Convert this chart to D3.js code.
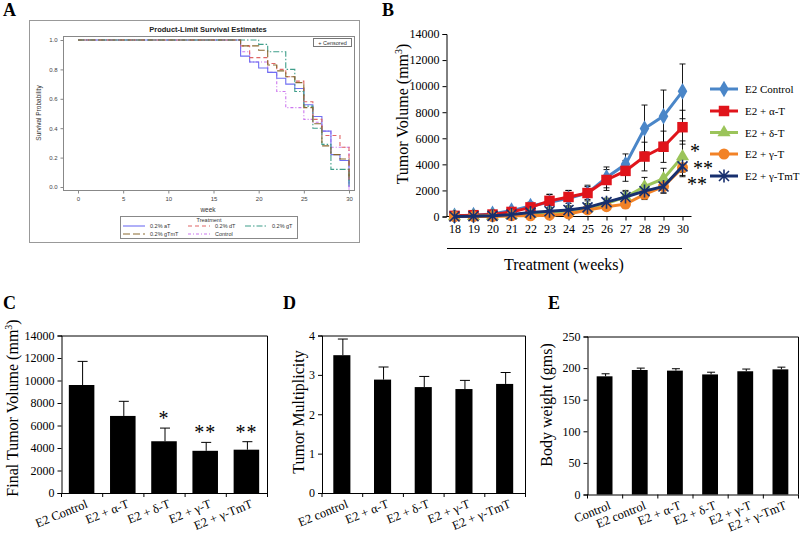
<!DOCTYPE html>
<html><head><meta charset="utf-8">
<script src="https://cdn.jsdelivr.net/npm/d3@7"></script>
<style>
body{margin:0;background:#fff}
svg{display:block}
text{font-family:"Liberation Serif","Times New Roman",serif;fill:#000}
.sas text{font-family:"Liberation Sans",Arial,sans-serif;fill:#333}
</style>
</head><body>
<svg id="chart" width="800" height="540"></svg>
<script>
// ---------- Panel A: survival data ----------
const survWeekTicks = [0, 5, 10, 15, 20, 25, 30];
const survProbTicks = [0, 0.2, 0.4, 0.6, 0.8, 1.0];
const survGroups = ["0.2% aT", "0.2% dT", "0.2% gT", "0.2% gTmT", "Control"];
const survTimesAT   = [0, 18, 19, 20, 21, 22, 23, 24, 25, 26, 27, 28, 29, 30];
const survProbAT    = [1, 0.89, 0.85, 0.81, 0.78, 0.74, 0.70, 0.67, 0.56, 0.48, 0.38, 0.22, 0.18, 0.02];
const survTimesDT   = [0, 18, 19, 21, 22, 23, 24, 25, 26, 27, 29, 30];
const survProbDT    = [1, 0.96, 0.88, 0.84, 0.80, 0.75, 0.72, 0.58, 0.46, 0.35, 0.27, 0.07];
const survTimesGT   = [0, 20, 21, 23, 24, 25, 26, 27, 28, 30];
const survProbGT    = [1, 0.97, 0.92, 0.80, 0.65, 0.55, 0.40, 0.29, 0.12, 0.03];
const survTimesGTMT = [0, 18, 20, 21, 22, 23, 24, 25, 26, 27, 28, 29, 30];
const survProbGTMT  = [1, 0.96, 0.93, 0.83, 0.79, 0.75, 0.71, 0.54, 0.43, 0.28, 0.22, 0.19, 0.07];
const survTimesCtl  = [0, 18, 19, 21, 22, 23, 25, 26, 27, 28, 30];
const survProbCtl   = [1, 0.92, 0.85, 0.78, 0.65, 0.54, 0.46, 0.44, 0.38, 0.27, 0.0];

// ---------- Panel B: tumor volume over time ----------
const weeksB = [18, 19, 20, 21, 22, 23, 24, 25, 26, 27, 28, 29, 30];
const seriesB = ["E2 Control", "E2 + α-T", "E2 + δ-T", "E2 + γ-T", "E2 + γ-TmT"];
const volControl = [50, 100, 200, 450, 800, 1100, 1400, 1800, 3000, 4000, 6750, 7700, 9600];
const volAlpha   = [50, 100, 150, 350, 700, 1200, 1500, 1800, 2800, 3500, 4600, 5350, 6850];
const volDelta   = [0, 20, 50, 100, 200, 300, 400, 650, 1000, 1500, 2300, 2900, 4600];
const volGamma   = [0, 0, 0, 50, 50, 100, 200, 500, 750, 950, 1700, 2300, 3750];
const volGammaMT = [0, 20, 50, 150, 300, 400, 500, 700, 1100, 1500, 1950, 2300, 3850];
const errControl = [50, 80, 100, 200, 300, 600, 600, 600, 800, 800, 1800, 2000, 2100];
const errAlpha   = [50, 80, 100, 200, 300, 500, 500, 500, 800, 800, 1100, 1200, 1300];
const errDelta   = [20, 30, 50, 80, 100, 150, 200, 250, 300, 400, 700, 800, 1200];
const errGamma   = [20, 30, 50, 60, 80, 100, 150, 200, 250, 300, 400, 500, 700];
const errGammaMT = [20, 30, 50, 80, 100, 200, 300, 300, 300, 500, 500, 500, 700];
const yTicksB = [0, 2000, 4000, 6000, 8000, 10000, 12000, 14000];

// ---------- Panel C: final tumor volume ----------
const catsC = ["E2 Control", "E2 + α-T", "E2 + δ-T", "E2 + γ-T", "E2 + γ-TmT"];
const valsC = [9600, 6850, 4600, 3750, 3850];
const errsC = [2100, 1300, 1170, 750, 710];
const starsC = ["", "", "*", "**", "**"];
const yTicksC = [0, 2000, 4000, 6000, 8000, 10000, 12000, 14000];

// ---------- Panel D: tumor multiplicity ----------
const catsD = ["E2 control", "E2 + α-T", "E2 + δ-T", "E2 + γ-T", "E2 + γ-TmT"];
const valsD = [3.5, 2.88, 2.69, 2.64, 2.77];
const errsD = [0.41, 0.32, 0.27, 0.22, 0.29];
const yTicksD = [0, 1, 2, 3, 4];

// ---------- Panel E: body weight ----------
const catsE = ["Control", "E2 control", "E2 + α-T", "E2 + δ-T", "E2 + γ-T", "E2 + γ-TmT"];
const valsE = [187, 197, 196, 190, 195, 198];
const errsE = [4, 3, 3, 3.5, 3.5, 3.5];
const yTicksE = [0, 50, 100, 150, 200, 250];

const svg = d3.select("#chart");
svg.append("rect").attr("width", 800).attr("height", 540).attr("fill", "#fff");

function panelLabel(t, x, y) {
  svg.append("text").attr("x", x).attr("y", y).attr("font-size", 18)
    .attr("font-weight", "bold").text(t);
}

// ================= Panel A =================
(function () {
  const g = svg.append("g").attr("class", "sas");
  g.append("rect").attr("x", 29.5).attr("y", 20.5).attr("width", 330).attr("height", 222)
    .attr("fill", "#fff").attr("stroke", "#999");
  g.append("text").attr("x", 208).attr("y", 32).attr("text-anchor", "middle")
    .attr("font-size", 7.5).attr("font-weight", "bold").style("fill", "#222")
    .text("Product-Limit Survival Estimates");
  g.append("rect").attr("x", 63.5).attr("y", 36.5).attr("width", 291).attr("height", 154)
    .attr("fill", "none").attr("stroke", "#888");
  const x = d3.scaleLinear([0, 30], [78, 349]);
  const y = d3.scaleLinear([0, 1], [187, 40]);
  const ax = g.append("g").attr("transform", "translate(63.5,0)")
    .call(d3.axisLeft(y).tickValues(survProbTicks).tickFormat(d3.format(".1f")).tickSize(3).tickPadding(3));
  const bx = g.append("g").attr("transform", "translate(0,190.5)")
    .call(d3.axisBottom(x).tickValues(survWeekTicks).tickSize(3).tickPadding(3));
  [ax, bx].forEach(a => {
    a.select(".domain").remove();
    a.selectAll("line").attr("stroke", "#888");
    a.selectAll("text").attr("font-size", 6).style("fill", "#444");
  });
  g.append("text").attr("x", 208).attr("y", 212).attr("text-anchor", "middle")
    .attr("font-size", 6.5).text("week");
  g.append("text").attr("transform", "translate(41,113) rotate(-90)").attr("text-anchor", "middle")
    .attr("font-size", 6.5).text("Survival Probability");

  const styles = [
    {t: survTimesAT, p: survProbAT, c: "#6f6ff2", d: null},
    {t: survTimesDT, p: survProbDT, c: "#e06666", d: "4,3"},
    {t: survTimesGT, p: survProbGT, c: "#3f9e8a", d: "6,2,1.5,2"},
    {t: survTimesGTMT, p: survProbGTMT, c: "#8a6a30", d: "7,3"},
    {t: survTimesCtl, p: survProbCtl, c: "#cc77ee", d: "3,2,1,2"}
  ];
  const line = d3.line().x(d => x(d[0])).y(d => y(d[1])).curve(d3.curveStepAfter);
  [4, 0, 1, 2, 3].forEach(i => {
    const s = styles[i];
    const pts = s.t.map((t, k) => [t, s.p[k]]);
    g.append("path").attr("d", line(pts)).attr("fill", "none").attr("stroke", s.c)
      .attr("stroke-width", 1.1).attr("stroke-dasharray", s.d);
    const last = pts[pts.length - 1];
    g.append("line").attr("x1", x(last[0])).attr("x2", x(last[0]))
      .attr("y1", y(last[1]) - 3).attr("y2", y(last[1]) + 3).attr("stroke", s.c).attr("stroke-width", 0.8);
  });
  g.append("rect").attr("x", 313.5).attr("y", 38.5).attr("width", 38).attr("height", 8)
    .attr("fill", "#fff").attr("stroke", "#777");
  g.append("text").attr("x", 332.5).attr("y", 44.8).attr("text-anchor", "middle")
    .attr("font-size", 5.5).text("+ Censored");
  g.append("rect").attr("x", 120.5).attr("y", 216.5).attr("width", 177).attr("height", 22)
    .attr("fill", "#fff").attr("stroke", "#888");
  g.append("text").attr("x", 209).attr("y", 222).attr("text-anchor", "middle")
    .attr("font-size", 5.5).text("Treatment");
  const lx = [[123, 150], [188, 215], [245, 272], [123, 150], [188, 215]];
  const ly = [226, 226, 226, 234, 234];
  survGroups.forEach((nm, i) => {
    const s = styles[i];
    g.append("line").attr("x1", lx[i][0]).attr("x2", lx[i][0] + 22).attr("y1", ly[i]).attr("y2", ly[i])
      .attr("stroke", s.c).attr("stroke-width", 1.1).attr("stroke-dasharray", s.d);
    g.append("text").attr("x", lx[i][1]).attr("y", ly[i] + 2).attr("font-size", 5.5).text(nm);
  });
})();
panelLabel("A", 3, 16);

// ================= Panel B =================
(function () {
  const g = svg.append("g");
  const x = d3.scalePoint(weeksB, [454.5, 682.5]);
  const y = d3.scaleLinear([0, 14000], [216.5, 34]);
  const ya = g.append("g").attr("transform", "translate(446.5,0)")
    .call(d3.axisLeft(y).tickValues(yTicksB).tickFormat(d3.format("d")).tickSize(4).tickPadding(3));
  ya.select(".domain").attr("stroke", "#000");
  ya.selectAll("text").attr("font-size", 12);
  const xa = g.append("g").attr("transform", "translate(0,216.5)")
    .call(d3.axisBottom(x).tickSize(4).tickPadding(4));
  xa.select(".domain").attr("d", "M446.5,0H691.5");
  xa.selectAll("text").attr("font-size", 12);
  g.append("line").attr("x1", 447).attr("x2", 682).attr("y1", 248.5).attr("y2", 248.5)
    .attr("stroke", "#000").attr("stroke-width", 1);
  g.append("text").attr("x", 564).attr("y", 270).attr("text-anchor", "middle")
    .attr("font-size", 16).text("Treatment (weeks)");
  const yl = g.append("text").attr("transform", "translate(408,114) rotate(-90)")
    .attr("text-anchor", "middle").attr("font-size", 16);
  yl.append("tspan").text("Tumor Volume (mm");
  yl.append("tspan").attr("font-size", 10).attr("dy", -6).text("3");
  yl.append("tspan").attr("dy", 6).text(")");

  const colors = ["#4a86c8", "#e0141b", "#9bc45a", "#f28226", "#172f6e"];
  const vals = [volControl, volAlpha, volDelta, volGamma, volGammaMT];
  const errs = [errControl, errAlpha, errDelta, errGamma, errGammaMT];
  const asterisk = "M-5,-5L5,5M-5,5L5,-5M0,-6.5L0,6.5";
  function marker(sel, i, cx, cy) {
    const c = colors[i];
    if (i === 4) {
      sel.append("path").attr("transform", `translate(${cx},${cy})`).attr("d", asterisk)
        .attr("stroke", c).attr("stroke-width", 1.6).attr("fill", "none");
    } else {
      const types = [d3.symbolDiamond, d3.symbolSquare, d3.symbolTriangle, d3.symbolCircle];
      const sizes = [80, 110, 75, 95];
      sel.append("path").attr("transform", `translate(${cx},${cy})`)
        .attr("d", d3.symbol(types[i], sizes[i])()).attr("fill", c);
    }
  }
  const line = d3.line().x(d => x(d.w)).y(d => y(d.v));
  vals.forEach((arr, i) => {
    const pts = weeksB.map((w, k) => ({w, v: arr[k], e: errs[i][k]}));
    const eg = g.append("g");
    pts.forEach(p => {
      const top = y(p.v + p.e), bot = y(Math.max(0, p.v - p.e));
      eg.append("line").attr("x1", x(p.w)).attr("x2", x(p.w)).attr("y1", top).attr("y2", bot)
        .attr("stroke", "#000").attr("stroke-width", 0.9);
      [top, bot].forEach(yy => eg.append("line").attr("x1", x(p.w) - 3).attr("x2", x(p.w) + 3)
        .attr("y1", yy).attr("y2", yy).attr("stroke", "#000").attr("stroke-width", 0.9));
    });
  });
  vals.forEach((arr, i) => {
    const pts = weeksB.map((w, k) => ({w, v: arr[k]}));
    g.append("path").attr("d", line(pts)).attr("fill", "none").attr("stroke", colors[i])
      .attr("stroke-width", 3);
    pts.forEach(p => marker(g, i, x(p.w), y(p.v)));
  });
  const ly = [89, 111, 132.5, 154, 176];
  seriesB.forEach((nm, i) => {
    g.append("line").attr("x1", 710).attr("x2", 738).attr("y1", ly[i]).attr("y2", ly[i])
      .attr("stroke", colors[i]).attr("stroke-width", 3);
    marker(g, i, 724, ly[i]);
    g.append("text").attr("x", 745).attr("y", ly[i] + 4).attr("font-size", 11).text(nm);
  });
  g.append("text").attr("x", 690).attr("y", 158).attr("font-size", 20).text("*");
  g.append("text").attr("x", 693).attr("y", 175).attr("font-size", 20).text("**");
  g.append("text").attr("x", 687).attr("y", 191).attr("font-size", 20).text("**");
})();
panelLabel("B", 382, 16);

// ================= Bar panels C, D, E =================
function barPanel(o) {
  const g = svg.append("g");
  const x = d3.scaleBand(o.cats, [o.x0, o.x1]).paddingInner(o.pad).paddingOuter(o.pad / 2);
  const y = d3.scaleLinear([0, o.max], [o.y0, o.y1]);
  g.append("path").attr("d", `M${o.x0},${o.y1 + 0.5}H${o.x1 + 0.5}V${o.y0}`)
    .attr("fill", "none").attr("stroke", "#000").attr("stroke-width", 1);
  const ya = g.append("g").attr("transform", `translate(${o.x0 + 0.5},0)`)
    .call(d3.axisLeft(y).tickValues(o.ticks).tickSize(4).tickPadding(3).tickFormat(d3.format("d")));
  ya.selectAll("text").attr("font-size", 12);
  g.append("line").attr("x1", o.x0).attr("x2", o.x1 + 0.5).attr("y1", o.y0 + 0.5).attr("y2", o.y0 + 0.5)
    .attr("stroke", "#000");
  const step = x.step();
  d3.range(o.cats.length + 1).forEach(k => {
    const xx = o.x0 + step * k + 0.5;
    g.append("line").attr("x1", xx).attr("x2", xx).attr("y1", o.y0).attr("y2", o.y0 + 4).attr("stroke", "#000");
  });
  o.cats.forEach((c, i) => {
    const v = o.vals[i], e = o.errs[i];
    const bx = x(c), bw = x.bandwidth(), cx = bx + bw / 2, ex = cx + 1;
    g.append("line").attr("x1", ex).attr("x2", ex).attr("y1", y(v)).attr("y2", y(v + e))
      .attr("stroke", "#000").attr("stroke-width", 1);
    g.append("line").attr("x1", ex - o.cap).attr("x2", ex + o.cap).attr("y1", y(v + e)).attr("y2", y(v + e))
      .attr("stroke", "#000").attr("stroke-width", 1);
    g.append("rect").attr("x", bx).attr("y", y(v)).attr("width", bw).attr("height", o.y0 - y(v))
      .attr("fill", "#000");
    g.append("text").attr("transform", `translate(${cx + 7},${o.y0 + 14}) rotate(-22)`)
      .attr("text-anchor", "end").attr("font-size", 12.5).text(c);
    if (o.stars && o.stars[i]) {
      g.append("text").attr("x", cx).attr("y", y(v + e) - 3).attr("text-anchor", "middle")
        .attr("font-size", 20).attr("letter-spacing", 1).text(o.stars[i]);
    }
  });
  const yl = g.append("text").attr("transform", `translate(${o.labelX},${o.labelY}) rotate(-90)`)
    .attr("text-anchor", "middle").attr("font-size", 16);
  if (o.sup) {
    yl.append("tspan").text(o.yLabel);
    yl.append("tspan").attr("font-size", 10).attr("dy", -6).text(o.sup);
    yl.append("tspan").attr("dy", 6).text(")");
  } else yl.text(o.yLabel);
}

barPanel({cats: catsC, vals: valsC, errs: errsC, stars: starsC, x0: 61, x1: 267, y0: 493, y1: 335.5, cap: 5,
  max: 14000, ticks: yTicksC, pad: 0.38, yLabel: "Final Tumor Volume (mm", sup: "3", labelX: 18, labelY: 408});
barPanel({cats: catsD, vals: valsD, errs: errsD, x0: 321.5, x1: 525, y0: 493, y1: 335.5, cap: 5,
  max: 4, ticks: yTicksD, pad: 0.58, yLabel: "Tumor Multiplicity", labelX: 304, labelY: 412});
barPanel({cats: catsE, vals: valsE, errs: errsE, x0: 587, x1: 798, y0: 494.5, y1: 336.5, cap: 4,
  max: 250, ticks: yTicksE, pad: 0.55, yLabel: "Body weight (gms)", labelX: 552, labelY: 405});
panelLabel("C", 3, 309);
panelLabel("D", 283, 309);
panelLabel("E", 548, 309);
</script>
</body></html>
